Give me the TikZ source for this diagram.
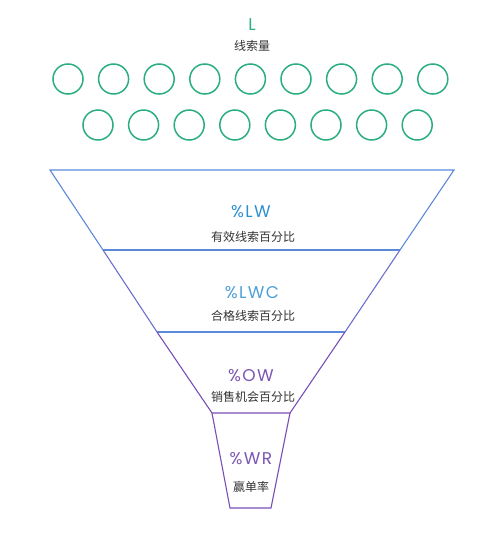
\documentclass[tikz,border=0pt]{standalone}
\usepackage{fontspec}
\newfontfamily\pop{Poppins}[LetterSpace=8]
\newfontfamily\cjk{Noto Sans CJK SC}
\definecolor{lgreen}{HTML}{2BAE7E}
\definecolor{fblue}{HTML}{5B8ADB}
\definecolor{fmid}{HTML}{6C6FD0}
\definecolor{fpurple}{HTML}{7A4FB5}
\definecolor{tblue}{HTML}{2E8FD3}
\definecolor{tblue2}{HTML}{4C9FD8}
\definecolor{tpurple}{HTML}{7B55B2}
\definecolor{tgray}{HTML}{333333}
\begin{document}
\begin{tikzpicture}[x=1pt,y=-1pt,
  lead/.style={draw=lgreen,line width=1.5pt,circle,minimum size=30pt,inner sep=0pt},
  big/.style={font=\pop\fontsize{17}{19}\selectfont,inner sep=0pt},
  small/.style={font=\cjk\fontsize{12}{14}\selectfont,text=tgray,inner sep=0pt},
  fl/.style={line width=1.1pt}]
\useasboundingbox (0,0) rectangle (499,536);
% title
\node[big,text=lgreen] (L) at (252,25) {L};
\node[small] (Lt) at (252,46) {线索量};
% circles
\foreach \i in {0,...,8}{\node[lead] (a\i) at (68+45.6*\i,79) {};}
\foreach \i in {0,...,7}{\node[lead] (b\i) at (98+45.6*\i,125) {};}
% funnel coordinates
\coordinate (t1) at (50,170);
\coordinate (t2) at (454,170);
\coordinate (m1l) at (103,250);
\coordinate (m1r) at (400,250);
\coordinate (m2l) at (157,332);
\coordinate (m2r) at (345,332);
\coordinate (m3l) at (212,413);
\coordinate (m3r) at (290,413);
\coordinate (bl) at (230,508);
\coordinate (br) at (271,508);
\draw[fl,draw=fblue] (m1l) -- (t1) -- (t2) -- (m1r);
\draw[fl,draw=fblue] (m1l) -- (m1r);
\draw[fl,draw=fmid] (m1l) -- (m2l);
\draw[fl,draw=fmid] (m1r) -- (m2r);
\draw[fl,draw=fblue] (m2l) -- (m2r);
\draw[fl,draw=fpurple] (m2l) -- (m3l) -- (m3r) -- (m2r);
\draw[fl,draw=fpurple] (m3l) -- (bl) -- (br) -- (m3r);
% labels
\node[big,text=tblue] (lw) at (251,212) {\%LW};
\node[small] (lwt) at (253,237) {有效线索百分比};
\node[big,text=tblue2] (lwc) at (252,293) {\%LWC};
\node[small] (lwct) at (253,316) {合格线索百分比};
\node[big,text=tpurple] (ow) at (251,376) {\%OW};
\node[small] (owt) at (253,397) {销售机会百分比};
\node[big,text=tpurple] (wr) at (251,459) {\%WR};
\node[small] (wrt) at (251,487) {赢单率};
\end{tikzpicture}
\end{document}
